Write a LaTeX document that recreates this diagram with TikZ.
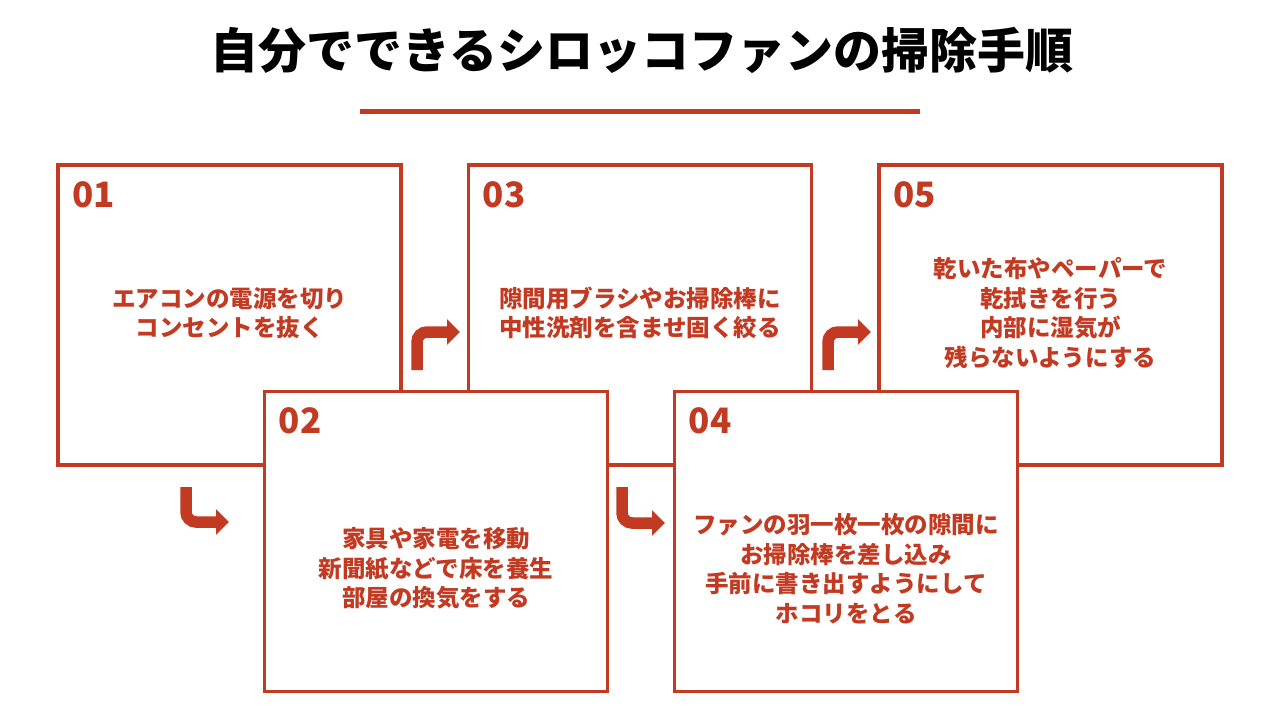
\documentclass[tikz,border=0pt]{standalone}
\usepackage{fontspec}
\setmainfont{Noto Sans CJK JP}
\usetikzlibrary{arrows.meta,positioning,calc}
\definecolor{stepred}{HTML}{C23A22}

\begin{document}
\begin{tikzpicture}[
  x=1pt, y=-1pt,
  card/.style={draw=stepred, line width=3.6pt, fill=white,
               minimum width=343pt, minimum height=300pt, inner sep=0pt},
  num/.style={font=\fontsize{35}{35}\selectfont\bfseries, text=stepred,
              anchor=base west, inner sep=0pt},
  body/.style={font=\fontsize{23.5}{29.5}\selectfont\bfseries, text=stepred,
               align=center, inner sep=0pt},
  turn/.style={-{Triangle[length=13pt,width=25pt]}, stepred,
               line width=11.5pt, rounded corners=10pt},
]
  \useasboundingbox (0,0) rectangle (1280,720);

  %% ── Titel ──
  \node[font=\fontsize{48}{48}\selectfont\bfseries] (title) at (642,50)
    {自分でできるシロッコファンの掃除手順};
  \coordinate (ruleL) at (360,111);
  \coordinate (ruleR) at (920,111);
  \draw[stepred, line width=5pt] (ruleL) -- (ruleR);

  %% ── Karten (02 und 04 liegen oben) ──
  \node[card] (s1) at (229.5,315) {};
  \node[card] (s3) at (640,315) {};
  \node[card] (s5) at (1050.5,315) {};
  \node[card] (s2) at (436,541.5) {};
  \node[card] (s4) at (846,541.5) {};

  %% ── Nummern ──
  \foreach \s/\n in {s1/01,s2/02,s3/03,s4/04,s5/05}
    \node[num] (n\s) at ($(\s.north west)+(16,44)$) {\n};

  %% ── Texte ──
  \node[body] (t1) at ($(s1.center)+(0,-2)$)
    {エアコンの電源を切り\\コンセントを抜く};
  \node[body] (t2) at ($(s2.center)+(0,27)$)
    {家具や家電を移動\\新聞紙などで床を養生\\部屋の換気をする};
  \node[body] (t3) at ($(s3.center)+(0,-2)$)
    {隙間用ブラシやお掃除棒に\\中性洗剤を含ませ固く絞る};
  \node[body] (t4) at ($(s4.center)+(0,27)$)
    {ファンの羽一枚一枚の隙間に\\お掃除棒を差し込み\\手前に書き出すようにして\\ホコリをとる};
  \node[body] (t5) at ($(s5.center)+(0,-2)$)
    {乾いた布やペーパーで\\乾拭きを行う\\内部に湿気が\\残らないようにする};

  %% ── Pfeile ──
  \coordinate (a1s) at (186,487);
  \coordinate (a1e) at (229,522);
  \coordinate (a2s) at (417,370);
  \coordinate (a2e) at (460,332);
  \coordinate (a3s) at (622,487);
  \coordinate (a3e) at (665,523);
  \coordinate (a4s) at (828,370);
  \coordinate (a4e) at (871,332);
  \draw[turn] (a1s) |- (a1e);
  \draw[turn] (a2s) |- (a2e);
  \draw[turn] (a3s) |- (a3e);
  \draw[turn] (a4s) |- (a4e);

\end{tikzpicture}
\end{document}
